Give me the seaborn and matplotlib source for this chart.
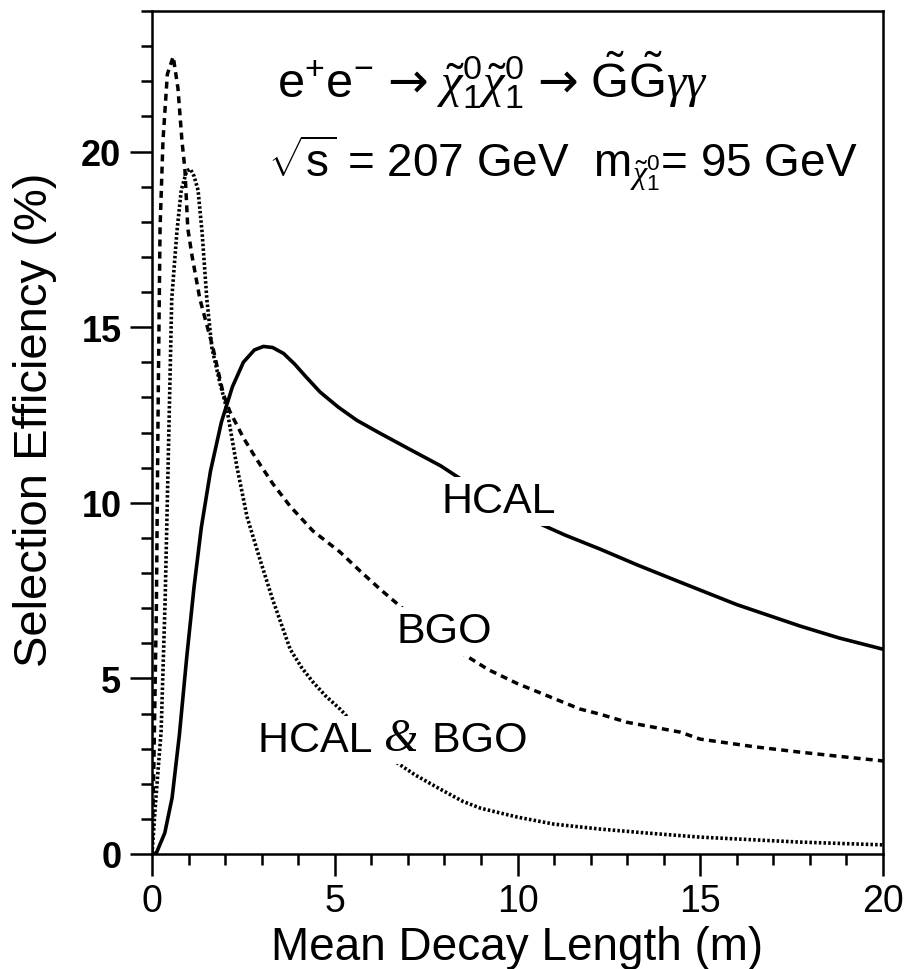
import numpy as np
import pandas as pd
import matplotlib
matplotlib.use("Agg")
import matplotlib.pyplot as plt
import seaborn as sns
from matplotlib.ticker import MultipleLocator

# ---------------- data ----------------
hcal_x = [0.0, 0.12, 0.35, 0.55, 0.75, 0.95, 1.15, 1.35, 1.6, 1.9, 2.2, 2.5, 2.8, 3.05,
          3.3, 3.6, 3.9, 4.2, 4.6, 5.1, 5.6, 6.2, 7.0, 7.9, 9.0, 10.4, 11.3, 12.26,
          13.3, 14.45, 16.0, 17.73, 18.8, 20.0]
hcal_y = [0.0, 0.03, 0.6, 1.6, 3.4, 5.6, 7.6, 9.3, 10.9, 12.3, 13.3, 14.0, 14.35, 14.45,
          14.42, 14.25, 13.95, 13.6, 13.15, 12.72, 12.35, 12.0, 11.55, 11.05, 10.3,
          9.5, 9.08, 8.68, 8.22, 7.74, 7.1, 6.49, 6.15, 5.83]

bgo_x = [0.0, 0.05, 0.12, 0.17, 0.22, 0.3, 0.42, 0.58, 0.71, 0.82, 0.9, 0.98, 1.1, 1.31,
         1.67, 1.95, 2.13, 2.5, 2.86, 3.3, 3.78, 4.4, 5.14, 5.7, 6.24, 7.3, 8.43, 9.2,
         10.0, 11.7, 12.26, 13.0, 14.45, 15.0, 16.5, 17.73, 18.8, 20.0]
bgo_y = [0.0, 2.5, 7.0, 13.0, 17.8, 20.3, 22.2, 22.7, 21.8, 20.3, 19.5, 17.8, 17.0, 15.8,
         14.4, 13.1, 12.6, 11.85, 11.24, 10.55, 9.9, 9.2, 8.6, 8.05, 7.54, 6.6, 5.75,
         5.25, 4.85, 4.13, 3.98, 3.75, 3.47, 3.27, 3.05, 2.9, 2.78, 2.65]

both_x = [0.0, 0.1, 0.25, 0.36, 0.45, 0.54, 0.68, 0.8, 0.95, 1.05, 1.15, 1.26, 1.37, 1.5,
          1.64, 1.86, 2.05, 2.32, 2.6, 2.95, 3.3, 3.78, 4.1, 4.4, 4.75, 5.14, 5.8, 6.7,
          7.2, 7.88, 8.5, 9.0, 10.0, 11.0, 12.26, 13.5, 15.0, 17.7, 20.0]
both_y = [0.0, 1.5, 3.5, 7.25, 11.5, 15.8, 17.7, 18.9, 19.45, 19.5, 19.3, 18.9, 17.7, 15.8,
          14.4, 13.4, 12.66, 11.04, 9.6, 8.4, 7.25, 5.83, 5.3, 4.9, 4.5, 4.13, 3.4, 2.6,
          2.25, 1.85, 1.5, 1.3, 1.05, 0.85, 0.71, 0.6, 0.48, 0.34, 0.26]

series_names = ["HCAL", "BGO", "HCAL & BGO"]
x_ticks = [0, 5, 10, 15, 20]
y_ticks = [0, 5, 10, 15, 20]

# ---------------- style ----------------
sns.set_theme(style="ticks")
plt.rcParams["font.family"] = ["Liberation Sans", "DejaVu Sans"]
plt.rcParams["mathtext.fontset"] = "custom"
plt.rcParams["mathtext.rm"] = "Liberation Sans"
plt.rcParams["mathtext.it"] = "Liberation Serif:italic"
plt.rcParams["mathtext.bf"] = "Liberation Sans:bold"
plt.rcParams["mathtext.sf"] = "Liberation Sans"
plt.rcParams["mathtext.cal"] = "DejaVu Sans"
for k in ["text.color", "axes.labelcolor", "xtick.color", "ytick.color",
          "axes.edgecolor"]:
    plt.rcParams[k] = "black"

W, H = 907, 970
fig = plt.figure(figsize=(W / 100, H / 100), dpi=100)
L, R, T, B = 152, 883, 12, 855
ax = fig.add_axes([L / W, 1 - B / H, (R - L) / W, (B - T) / H])

df_h = pd.DataFrame({"x": hcal_x, "y": hcal_y})
df_b = pd.DataFrame({"x": bgo_x, "y": bgo_y})
df_c = pd.DataFrame({"x": both_x, "y": both_y})

sns.lineplot(data=df_h, x="x", y="y", ax=ax, color="black", lw=2.6, estimator=None)
sns.lineplot(data=df_b, x="x", y="y", ax=ax, color="black", lw=2.5, estimator=None)
sns.lineplot(data=df_c, x="x", y="y", ax=ax, color="black", lw=2.6, estimator=None)
lines = ax.get_lines()
lines[1].set_dashes((2.0, 1.5))
lines[2].set_dashes((0.7, 0.6))
for ln in lines:
    ln.set_solid_joinstyle("round")
    ln.set_dash_joinstyle("round")

ax.set_xlim(0, 20)
ax.set_ylim(0, 24)
ax.xaxis.set_minor_locator(MultipleLocator(1))
ax.yaxis.set_minor_locator(MultipleLocator(1))
ax.set_xticks(x_ticks)
ax.set_yticks(y_ticks)
ax.set_xticklabels([str(v) for v in x_ticks])
ax.set_yticklabels([str(v) for v in y_ticks])

for s in ax.spines.values():
    s.set_linewidth(1.8)
    s.set_color("black")
    s.set_visible(True)
ax.tick_params(which="major", direction="out", length=16, width=1.8, color="black",
               top=False, right=False)
ax.tick_params(which="minor", direction="out", length=8, width=1.8, color="black",
               top=False, right=False)
ax.tick_params(axis="x", which="major", labelsize=27, pad=5, labelcolor="black")
ax.tick_params(axis="y", which="major", labelsize=26, pad=6, labelcolor="black")
for lab in ax.get_yticklabels():
    lab.set_fontweight("bold")

ax.set_xlabel("")
ax.set_ylabel("")
fig.text((L + R) / 2 / W, 1 - 960 / H, "Mean Decay Length (m)", ha="center",
         va="baseline", fontsize=33, color="black")
fig.text(13 / W, 1 - 420 / H, "Selection Efficiency (%)", rotation=90, ha="left",
         va="center", fontsize=34, color="black")

# curve labels with white background
box = dict(facecolor="white", edgecolor="none", pad=3)
ax.text(7.93, 9.73, series_names[0], fontsize=31, ha="left", va="baseline",
        bbox=box, zorder=5, color="black")
ax.text(6.7, 6.03, series_names[1], fontsize=31, ha="left", va="baseline",
        bbox=box, zorder=5, color="black")
part1, amp, part2 = series_names[2].split(" ")
t1 = ax.text(2.9, 2.93, part1 + " ", fontsize=31, ha="left", va="baseline",
             bbox=box, zorder=5, color="black")
t2 = ax.annotate(amp, xy=(1, 0), xycoords=t1, ha="left", va="bottom",
                 fontsize=33, family="Liberation Serif", style="italic",
                 bbox=box, zorder=5, color="black")
t3 = ax.annotate(" " + part2, xy=(1, 0), xycoords=t1, xytext=(27, 0),
                 textcoords="offset points", ha="left", va="bottom",
                 fontsize=31, bbox=box, zorder=5, color="black")

# process annotation
ax.text(3.42, 21.54,
        r"$\mathrm{e^{+}e^{-}}\,\mathcal{\rightarrow}\,\tilde{\chi}^{0}_{1}\tilde{\chi}^{0}_{1}"
        r"\,\mathcal{\rightarrow}\,\tilde{\mathrm{G}}\tilde{\mathrm{G}}\gamma\gamma$",
        fontsize=35, ha="left", va="baseline", color="black")
ax.text(3.17, 19.29,
        r"$\sqrt{\mathrm{s}}$ = 207 GeV  m$_{\tilde{\chi}^{0}_{1}}$= 95 GeV",
        fontsize=33, ha="left", va="baseline", color="black")

fig.savefig("out.png", dpi=100, facecolor="white")
